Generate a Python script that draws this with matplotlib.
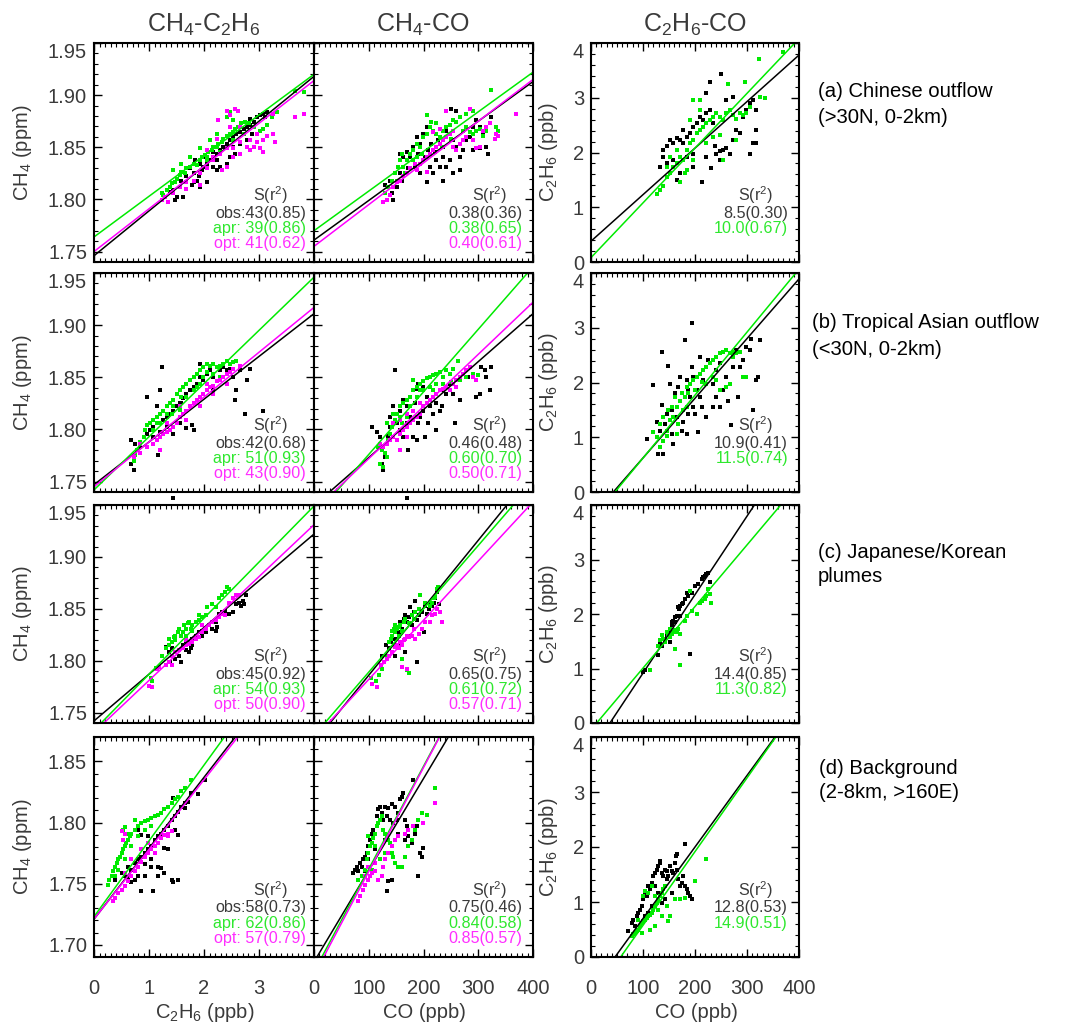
import matplotlib
matplotlib.use("Agg")
import matplotlib.pyplot as plt
import numpy as np
from matplotlib.ticker import MultipleLocator

plt.rcParams['font.family'] = ['Liberation Sans', 'DejaVu Sans']
plt.rcParams['mathtext.fontset'] = 'custom'
plt.rcParams['mathtext.rm'] = 'Liberation Sans'
plt.rcParams['mathtext.it'] = 'Liberation Sans'
plt.rcParams['mathtext.default'] = 'regular'

# ---- data ---------------------------------------------------------------
# (a) Chinese outflow
A1_OBS = [(1.38,1.807),(1.44,1.809),(1.50,1.802),(1.68,1.810),(1.78,1.814),(1.81,1.817),(1.87,1.818),(1.90,1.822),(1.93,1.825),(1.96,1.828),(1.99,1.831),(2.05,1.834),(2.11,1.838),(2.17,1.841),(2.23,1.844),(2.29,1.847),(2.35,1.850),(2.41,1.853),(2.47,1.857),(2.53,1.860),(2.59,1.863),(2.65,1.865),(2.72,1.868),(2.78,1.869),(2.84,1.871),(2.90,1.874),(2.96,1.879),(3.02,1.881),(3.08,1.882),(3.14,1.884),(3.11,1.879),(1.93,1.812),(2.05,1.817),(2.23,1.828),(2.29,1.831),(2.17,1.831),(1.81,1.825),(1.68,1.822),(1.59,1.818),(2.53,1.850),(2.65,1.853),(2.78,1.857),(2.87,1.863),(2.47,1.841),(2.41,1.834),(2.02,1.841),(1.93,1.834),(1.84,1.838),(1.75,1.830),(2.17,1.845),(1.62,1.802),(1.47,1.799),(2.56,1.844),(2.23,1.838),(2.84,1.877)]
A1_APR = [(1.23,1.806),(1.26,1.804),(1.32,1.809),(1.38,1.812),(1.41,1.816),(1.47,1.817),(1.50,1.820),(1.56,1.823),(1.59,1.826),(1.65,1.825),(1.68,1.830),(1.75,1.831),(1.81,1.834),(1.87,1.833),(1.93,1.838),(1.96,1.841),(2.02,1.843),(2.05,1.841),(2.08,1.845),(2.14,1.847),(2.17,1.850),(2.23,1.850),(2.26,1.853),(2.32,1.855),(2.35,1.858),(2.41,1.861),(2.47,1.863),(2.53,1.865),(2.56,1.868),(2.62,1.869),(2.68,1.873),(2.75,1.874),(2.81,1.873),(2.90,1.869),(3.02,1.866),(3.08,1.868),(3.14,1.871),(3.23,1.879),(3.26,1.882),(3.32,1.884),(3.65,1.904),(3.81,1.903),(2.41,1.879),(2.47,1.884),(2.53,1.876),(2.23,1.863),(2.11,1.857),(1.93,1.849),(1.75,1.841),(1.59,1.834),(1.44,1.828),(2.29,1.845),(2.05,1.838),(2.53,1.857),(2.72,1.863)]
A1_OPT = [(1.23,1.799),(1.29,1.802),(1.35,1.798),(1.44,1.806),(1.56,1.812),(1.68,1.817),(1.81,1.818),(1.93,1.825),(2.05,1.830),(2.17,1.841),(2.29,1.844),(2.41,1.849),(2.53,1.849),(2.65,1.855),(2.78,1.850),(2.84,1.857),(2.90,1.850),(2.96,1.855),(3.02,1.849),(3.08,1.857),(3.14,1.861),(3.26,1.863),(3.29,1.855),(3.08,1.845),(2.84,1.847),(2.65,1.844),(2.53,1.841),(2.41,1.831),(2.32,1.828),(2.17,1.838),(2.05,1.847),(2.41,1.885),(2.56,1.887),(2.62,1.885),(2.47,1.881),(2.26,1.876),(2.47,1.869),(2.65,1.869),(3.26,1.882),(3.65,1.879),(3.81,1.882),(1.93,1.814),(1.68,1.810),(2.23,1.858),(2.96,1.863)]
A2_OBS = [(129.5,1.814),(138.6,1.818),(144.7,1.799),(150.8,1.812),(156.9,1.825),(156.9,1.844),(162.9,1.841),(169.0,1.845),(175.1,1.841),(181.2,1.850),(187.3,1.860),(190.3,1.844),(193.3,1.853),(199.4,1.863),(205.5,1.869),(208.5,1.847),(211.6,1.831),(217.7,1.825),(223.7,1.838),(229.8,1.831),(235.9,1.841),(242.0,1.831),(248.1,1.838),(254.1,1.857),(260.2,1.850),(266.3,1.841),(272.4,1.847),(278.5,1.857),(284.5,1.860),(290.6,1.869),(296.7,1.876),(302.8,1.869),(308.9,1.863),(314.9,1.850),(318.0,1.844),(324.1,1.879),(251.1,1.887),(260.2,1.885),(242.0,1.866),(226.8,1.857),(214.6,1.853),(202.5,1.841),(184.2,1.831),(172.1,1.830),(159.9,1.818),(141.7,1.806),(193.3,1.825),(205.5,1.817),(235.9,1.818),(254.1,1.825),(266.3,1.828),(290.6,1.847),(302.8,1.849),(235.9,1.850),(220.7,1.845)]
A2_APR = [(129.5,1.806),(135.6,1.812),(141.7,1.818),(147.7,1.825),(153.8,1.831),(156.9,1.838),(162.9,1.831),(169.0,1.838),(175.1,1.844),(181.2,1.847),(187.3,1.853),(193.3,1.850),(199.4,1.860),(205.5,1.863),(211.6,1.869),(217.7,1.866),(223.7,1.863),(229.8,1.860),(235.9,1.866),(242.0,1.869),(248.1,1.871),(254.1,1.876),(260.2,1.874),(266.3,1.879),(272.4,1.866),(278.5,1.869),(284.5,1.865),(290.6,1.863),(296.7,1.866),(302.8,1.868),(308.9,1.861),(314.9,1.866),(324.1,1.905),(333.2,1.869),(336.2,1.866),(205.5,1.881),(214.6,1.874),(223.7,1.873),(196.4,1.844),(181.2,1.838),(166.0,1.825),(187.3,1.841),(232.9,1.850),(251.1,1.858),(278.5,1.882),(290.6,1.885),(159.9,1.844),(150.8,1.818)]
A2_OPT = [(126.5,1.798),(132.5,1.799),(138.6,1.804),(144.7,1.812),(150.8,1.817),(156.9,1.818),(162.9,1.822),(169.0,1.825),(175.1,1.830),(184.2,1.834),(193.3,1.834),(199.4,1.838),(205.5,1.841),(211.6,1.844),(217.7,1.847),(223.7,1.850),(229.8,1.853),(235.9,1.857),(242.0,1.860),(248.1,1.863),(254.1,1.850),(260.2,1.847),(266.3,1.853),(272.4,1.857),(278.5,1.860),(284.5,1.887),(290.6,1.857),(296.7,1.849),(302.8,1.850),(308.9,1.866),(314.9,1.869),(321.0,1.873),(330.1,1.858),(333.2,1.863),(336.2,1.861),(369.7,1.882),(242.0,1.885),(254.1,1.866),(229.8,1.868),(217.7,1.865),(187.3,1.828),(205.5,1.826)]
A3_OBS = [(132.5,1.74),(138.9,2.05),(145.3,2.11),(151.7,2.23),(158.1,2.17),(164.5,2.26),(170.9,2.23),(177.3,2.17),(183.7,2.29),(190.1,2.35),(196.5,2.47),(202.9,2.53),(209.3,2.65),(215.7,2.59),(222.1,2.72),(228.5,2.78),(234.9,2.53),(238.1,2.11),(241.3,1.98),(247.7,2.02),(254.1,2.05),(260.5,2.08),(266.9,1.98),(273.3,2.23),(279.7,2.41),(286.1,2.35),(292.5,2.65),(298.9,2.78),(305.3,2.90),(311.7,2.96),(318.1,2.78),(318.1,2.41),(311.7,2.17),(305.3,1.98),(318.1,2.17),(250.9,3.43),(228.5,3.29),(212.5,1.47),(170.9,1.62),(158.1,1.86),(145.3,1.80),(183.7,1.92),(196.5,1.98),(222.1,1.92),(231.7,1.71),(164.5,1.50),(138.9,1.92),(177.3,2.41),(260.5,2.96),(273.3,3.02),(222.1,3.08),(196.5,1.74),(247.7,1.86)]
A3_APR = [(126.1,1.25),(132.5,1.32),(138.9,1.38),(145.3,1.56),(151.7,1.62),(158.1,1.74),(164.5,1.80),(170.9,1.92),(177.3,1.86),(183.7,2.05),(190.1,2.17),(196.5,2.23),(202.9,2.35),(209.3,2.41),(215.7,2.47),(222.1,2.53),(228.5,2.59),(234.9,2.65),(241.3,2.72),(247.7,2.65),(254.1,2.59),(260.5,2.72),(266.9,2.78),(273.3,2.68),(279.7,2.62),(286.1,2.72),(292.5,2.68),(298.9,2.72),(305.3,2.84),(324.5,3.02),(334.1,2.99),(196.5,2.96),(209.3,2.96),(190.1,2.59),(209.3,2.78),(263.7,3.26),(295.7,3.29),(323.2,3.70),(369.3,3.84),(151.7,1.92),(145.3,1.74),(164.5,2.05),(180.5,1.62),(196.5,1.86),(222.1,2.17),(247.7,2.32),(279.7,2.23),(254.1,1.86),(170.9,1.47),(183.7,1.68),(234.9,2.29)]

# (b) Tropical Asian outflow
B1_OBS = [(0.68,1.767),(0.72,1.761),(0.68,1.790),(0.75,1.786),(0.78,1.780),(0.84,1.783),(0.90,1.793),(0.96,1.796),(0.96,1.831),(1.02,1.799),(1.08,1.802),(1.14,1.806),(1.20,1.798),(1.23,1.860),(1.20,1.838),(1.26,1.809),(1.32,1.812),(1.38,1.815),(1.44,1.818),(1.50,1.822),(1.56,1.825),(1.59,1.825),(1.56,1.806),(1.62,1.830),(1.68,1.834),(1.68,1.801),(1.75,1.838),(1.81,1.841),(1.87,1.844),(1.93,1.863),(1.93,1.850),(1.99,1.847),(2.05,1.853),(2.11,1.857),(2.17,1.850),(2.23,1.860),(2.29,1.857),(2.35,1.860),(2.41,1.857),(2.47,1.858),(2.53,1.850),(2.59,1.838),(2.65,1.857),(2.78,1.847),(2.84,1.858),(2.56,1.828),(2.75,1.815),(3.08,1.818),(1.78,1.804),(1.81,1.799),(1.32,1.802),(1.14,1.822),(1.08,1.793),(1.17,1.775),(1.44,1.796),(1.93,1.831),(2.17,1.838),(1.43,1.734)]
B1_APR = [(0.72,1.770),(0.75,1.775),(0.78,1.780),(0.84,1.788),(0.90,1.793),(0.93,1.799),(0.96,1.804),(1.02,1.806),(1.08,1.809),(1.14,1.812),(1.20,1.815),(1.26,1.818),(1.32,1.822),(1.38,1.825),(1.44,1.828),(1.50,1.834),(1.56,1.838),(1.62,1.841),(1.68,1.844),(1.75,1.847),(1.81,1.850),(1.87,1.853),(1.93,1.857),(1.99,1.860),(2.05,1.855),(2.11,1.861),(2.17,1.863),(2.23,1.860),(2.29,1.861),(2.35,1.863),(2.41,1.866),(2.47,1.863),(2.53,1.865),(2.59,1.866),(1.99,1.850),(1.81,1.838),(1.68,1.831),(1.44,1.822),(1.32,1.815),(1.14,1.806),(1.08,1.799),(1.56,1.819),(2.05,1.863),(1.87,1.841),(1.59,1.831),(1.41,1.815),(1.20,1.806),(2.17,1.853),(2.29,1.850),(1.93,1.844)]
B1_OPT = [(0.72,1.774),(0.84,1.777),(0.96,1.783),(1.08,1.786),(1.14,1.790),(1.20,1.793),(1.26,1.796),(1.32,1.798),(1.38,1.799),(1.44,1.802),(1.50,1.806),(1.56,1.812),(1.62,1.815),(1.68,1.818),(1.75,1.822),(1.81,1.825),(1.87,1.828),(1.93,1.831),(1.99,1.834),(2.05,1.838),(2.11,1.841),(2.17,1.842),(2.23,1.846),(2.29,1.847),(2.35,1.850),(2.41,1.853),(2.47,1.855),(2.53,1.858),(2.65,1.861),(1.68,1.809),(1.93,1.822),(2.17,1.834),(2.41,1.844),(1.20,1.780),(0.84,1.786),(1.32,1.806),(1.56,1.822),(2.05,1.844)]
B2_OBS = [(105.2,1.802),(114.3,1.798),(120.4,1.793),(123.4,1.767),(126.5,1.761),(129.5,1.774),(132.5,1.786),(135.6,1.794),(138.6,1.802),(138.6,1.812),(144.7,1.822),(147.7,1.857),(150.8,1.806),(156.9,1.799),(156.9,1.818),(162.9,1.828),(162.9,1.793),(169.0,1.806),(169.0,1.822),(175.1,1.831),(175.1,1.812),(181.2,1.793),(184.2,1.825),(187.3,1.839),(190.3,1.806),(193.3,1.812),(199.4,1.818),(202.5,1.793),(205.5,1.831),(208.5,1.806),(211.6,1.822),(217.7,1.815),(223.7,1.825),(229.8,1.818),(232.9,1.822),(235.9,1.838),(242.0,1.834),(248.1,1.844),(254.1,1.834),(260.2,1.847),(266.3,1.828),(272.4,1.853),(278.5,1.857),(281.5,1.850),(290.6,1.853),(296.7,1.831),(302.8,1.834),(305.8,1.860),(311.9,1.857),(314.9,1.850),(321.0,1.838),(324.1,1.860),(257.2,1.806),(187.3,1.790),(172.1,1.780),(223.7,1.799),(190.3,1.844),(199.4,1.841),(170.2,1.734)]
B2_APR = [(117.3,1.783),(123.4,1.780),(129.5,1.777),(132.5,1.774),(135.6,1.790),(138.6,1.796),(141.7,1.802),(147.7,1.809),(150.8,1.815),(156.9,1.822),(159.9,1.806),(162.9,1.825),(169.0,1.828),(175.1,1.831),(181.2,1.838),(187.3,1.841),(193.3,1.844),(199.4,1.846),(205.5,1.849),(211.6,1.850),(217.7,1.852),(223.7,1.853),(229.8,1.855),(235.9,1.850),(242.0,1.857),(248.1,1.853),(254.1,1.858),(263.3,1.866),(266.3,1.847),(278.5,1.850),(290.6,1.853),(299.7,1.852),(132.5,1.806),(144.7,1.815),(156.9,1.812),(175.1,1.822),(187.3,1.831),(199.4,1.838),(211.6,1.841),(223.7,1.844),(235.9,1.844),(181.2,1.847),(193.3,1.838),(120.4,1.767),(126.5,1.764),(169.0,1.812),(217.7,1.838),(251.1,1.845)]
B2_OPT = [(120.4,1.786),(126.5,1.783),(132.5,1.786),(138.6,1.790),(144.7,1.793),(150.8,1.790),(156.9,1.796),(162.9,1.799),(169.0,1.802),(175.1,1.806),(181.2,1.809),(187.3,1.812),(193.3,1.815),(199.4,1.822),(205.5,1.825),(211.6,1.828),(217.7,1.831),(223.7,1.834),(229.8,1.838),(235.9,1.839),(242.0,1.841),(248.1,1.838),(254.1,1.844),(260.2,1.847),(266.3,1.850),(272.4,1.853),(278.5,1.857),(284.5,1.860),(290.6,1.850),(296.7,1.847),(144.7,1.806),(156.9,1.809),(169.0,1.815),(181.2,1.818),(193.3,1.825),(156.9,1.780),(169.0,1.793),(260.2,1.841)]
B3_OBS = [(106.9,0.97),(119.7,1.95),(126.1,1.28),(129.3,0.70),(132.5,1.12),(135.7,1.58),(135.7,2.56),(138.9,0.70),(142.1,1.25),(145.3,1.43),(148.5,2.31),(151.7,1.98),(154.9,1.06),(158.1,0.88),(161.3,1.80),(164.5,1.55),(167.7,1.92),(170.9,2.10),(174.1,1.12),(177.3,1.28),(180.5,2.77),(183.7,2.04),(186.9,1.43),(190.1,1.73),(193.3,3.08),(193.3,2.28),(196.5,2.10),(199.7,1.43),(202.9,1.86),(206.1,1.09),(209.3,2.47),(212.5,1.55),(215.7,2.04),(222.1,1.37),(225.3,2.41),(228.5,2.35),(234.9,1.98),(241.3,2.22),(247.7,2.35),(254.1,1.86),(260.5,2.10),(263.7,1.67),(270.1,1.22),(273.3,2.28),(279.7,2.59),(282.9,1.73),(286.1,2.28),(292.5,2.41),(298.9,2.65),(305.3,2.59),(308.5,2.80),(311.7,1.49),(318.1,2.04),(321.3,2.10),(324.5,2.77),(209.3,1.73),(183.7,1.06),(164.5,1.37),(154.9,1.49),(241.3,1.73),(234.9,1.55),(247.7,1.55),(170.9,1.67),(196.5,1.55),(186.9,1.86)]
B3_APR = [(119.7,1.09),(126.1,1.00),(132.5,1.25),(138.9,1.37),(145.3,1.12),(148.5,1.49),(151.7,1.31),(154.9,1.55),(158.1,1.37),(161.3,1.73),(164.5,1.55),(167.7,1.25),(170.9,1.67),(174.1,1.80),(177.3,1.49),(180.5,1.73),(183.7,1.92),(186.9,1.80),(190.1,1.98),(196.5,2.04),(199.7,1.86),(202.9,2.10),(209.3,2.16),(212.5,2.01),(215.7,2.22),(222.1,2.28),(228.5,2.35),(234.9,2.41),(241.3,2.47),(247.7,2.53),(254.1,2.56),(260.5,2.59),(266.9,2.53),(273.3,2.56),(279.7,2.53),(286.1,2.56),(292.5,2.10),(298.9,2.10),(266.9,1.98),(260.5,1.92),(247.7,1.86),(234.9,2.10),(132.5,0.82),(138.9,0.94),(145.3,1.03),(183.7,1.55),(222.1,1.98),(241.3,2.04),(273.3,2.47),(164.5,1.06)]

# (c) Japanese/Korean plumes
C1_OBS = [(1.30,1.813),(1.36,1.808),(1.42,1.812),(1.48,1.802),(1.55,1.805),(1.58,1.799),(1.61,1.815),(1.67,1.816),(1.73,1.818),(1.76,1.812),(1.79,1.821),(1.85,1.824),(1.91,1.828),(1.97,1.829),(2.03,1.831),(2.09,1.834),(2.15,1.831),(2.21,1.829),(2.24,1.832),(2.27,1.845),(2.33,1.847),(2.39,1.848),(2.45,1.845),(2.52,1.847),(2.58,1.855),(2.64,1.856),(2.70,1.858),(2.76,1.863),(2.73,1.855),(2.67,1.853),(1.73,1.808),(1.67,1.810),(1.97,1.824),(2.15,1.837),(1.91,1.823),(1.39,1.799),(1.79,1.815),(2.03,1.828),(2.21,1.837)]
C1_APR = [(1.03,1.783),(1.06,1.780),(1.24,1.805),(1.30,1.812),(1.36,1.815),(1.42,1.818),(1.45,1.823),(1.48,1.824),(1.52,1.828),(1.55,1.831),(1.58,1.824),(1.61,1.828),(1.64,1.834),(1.67,1.831),(1.70,1.836),(1.73,1.837),(1.76,1.831),(1.79,1.834),(1.85,1.837),(1.91,1.844),(1.97,1.842),(2.03,1.844),(2.06,1.852),(2.15,1.855),(2.21,1.852),(2.27,1.860),(2.33,1.863),(2.39,1.866),(2.42,1.871),(2.45,1.869),(1.36,1.821),(1.48,1.820),(1.67,1.824),(1.79,1.829),(1.91,1.839),(1.12,1.793)]
C1_OPT = [(1.00,1.776),(1.06,1.775),(1.15,1.792),(1.18,1.794),(1.30,1.796),(1.36,1.799),(1.42,1.805),(1.48,1.808),(1.55,1.810),(1.61,1.812),(1.67,1.815),(1.73,1.816),(1.79,1.818),(1.85,1.821),(1.91,1.823),(1.97,1.828),(2.03,1.831),(2.09,1.834),(2.15,1.837),(2.21,1.839),(2.27,1.842),(2.33,1.845),(2.39,1.844),(2.45,1.856),(2.52,1.860),(2.58,1.863),(2.64,1.863),(1.42,1.796),(1.67,1.820),(1.97,1.834)]
C2_OBS = [(124.6,1.805),(130.7,1.815),(136.7,1.812),(139.8,1.818),(142.8,1.824),(148.8,1.821),(151.9,1.831),(154.9,1.828),(157.9,1.837),(160.9,1.831),(164.0,1.840),(167.0,1.844),(170.0,1.837),(173.0,1.842),(176.1,1.852),(179.1,1.834),(182.1,1.847),(185.1,1.858),(188.2,1.839),(191.2,1.844),(197.2,1.847),(200.3,1.828),(203.3,1.853),(206.3,1.845),(209.3,1.850),(212.4,1.855),(215.4,1.853),(218.4,1.856),(221.4,1.860),(224.5,1.866),(227.5,1.855),(167.0,1.808),(188.2,1.799),(148.8,1.805),(154.9,1.815),(173.0,1.824)]
C2_APR = [(103.5,1.783),(112.5,1.780),(118.6,1.786),(124.6,1.792),(133.7,1.805),(136.7,1.818),(139.8,1.821),(142.8,1.824),(148.8,1.828),(145.8,1.831),(151.9,1.831),(154.9,1.832),(157.9,1.834),(160.9,1.829),(164.0,1.837),(167.0,1.840),(173.0,1.836),(179.1,1.844),(182.1,1.840),(185.1,1.847),(191.2,1.850),(194.2,1.863),(203.3,1.856),(212.4,1.853),(215.4,1.856),(218.4,1.860),(221.4,1.861),(224.5,1.869),(226.3,1.871),(160.9,1.802),(170.0,1.791),(173.0,1.788),(148.8,1.834),(142.8,1.829),(154.9,1.824)]
C2_OPT = [(106.5,1.778),(115.6,1.775),(121.6,1.796),(127.7,1.799),(133.7,1.802),(136.7,1.805),(142.8,1.808),(148.8,1.813),(151.9,1.815),(154.9,1.812),(157.9,1.818),(160.9,1.815),(164.0,1.820),(167.0,1.821),(170.0,1.824),(173.0,1.823),(179.1,1.824),(182.1,1.831),(185.1,1.821),(191.2,1.826),(197.2,1.831),(203.3,1.837),(212.4,1.837),(215.4,1.844),(221.4,1.845),(224.5,1.850),(230.5,1.847),(233.5,1.837),(160.9,1.794),(170.0,1.792)]
C3_OBS = [(100.5,0.94),(103.7,0.97),(129.3,1.24),(132.5,1.48),(135.7,1.42),(142.1,1.55),(145.3,1.61),(148.5,1.67),(151.7,1.73),(154.9,1.79),(156.2,1.85),(158.1,1.88),(161.3,1.94),(164.5,1.97),(166.4,2.12),(169.0,2.09),(170.9,2.15),(174.1,2.18),(177.3,2.21),(180.5,2.27),(183.7,2.39),(186.9,2.33),(193.3,2.39),(199.7,2.52),(206.1,2.55),(212.5,2.64),(215.7,2.67),(218.9,2.70),(222.1,2.73),(225.3,2.76),(228.5,2.58),(190.1,1.27),(151.7,1.48),(161.3,1.85),(170.9,1.97)]
C3_APR = [(113.3,0.97),(129.3,1.42),(132.5,1.52),(135.7,1.61),(138.9,1.55),(142.1,1.48),(145.3,1.67),(148.5,1.61),(151.7,1.73),(154.9,1.64),(158.1,1.67),(161.3,1.70),(164.5,1.67),(167.7,1.73),(170.9,1.64),(161.3,1.36),(170.9,1.06),(180.5,1.88),(183.7,1.97),(193.3,2.06),(202.9,2.00),(209.3,2.21),(212.5,2.24),(218.9,2.27),(222.1,2.33),(225.3,2.45),(228.5,2.36),(231.7,2.21),(190.1,2.42),(151.7,1.58)]

# (d) Background
D1_OBS = [(0.38,1.753),(0.50,1.759),(0.56,1.756),(0.62,1.764),(0.68,1.761),(0.74,1.767),(0.80,1.770),(0.86,1.772),(0.92,1.775),(0.98,1.778),(1.04,1.781),(1.10,1.786),(1.16,1.789),(1.22,1.791),(1.28,1.794),(1.35,1.797),(1.41,1.802),(1.47,1.805),(1.53,1.809),(1.59,1.813),(1.65,1.816),(1.71,1.817),(1.77,1.824),(1.89,1.823),(2.01,1.835),(1.44,1.820),(1.47,1.794),(1.53,1.790),(1.65,1.812),(0.80,1.764),(0.68,1.751),(0.80,1.756),(0.92,1.756),(1.04,1.764),(1.16,1.756),(1.28,1.759),(0.86,1.744),(1.07,1.744),(1.16,1.764),(1.22,1.763),(1.28,1.779),(1.35,1.778),(1.41,1.753),(1.44,1.751),(1.53,1.753),(1.04,1.770),(0.92,1.766),(0.62,1.755),(0.74,1.753),(0.80,1.794),(0.98,1.789),(0.86,1.790)]
D1_APR = [(0.28,1.753),(0.32,1.756),(0.35,1.760),(0.38,1.764),(0.41,1.767),(0.44,1.770),(0.47,1.772),(0.50,1.775),(0.53,1.778),(0.56,1.781),(0.59,1.783),(0.62,1.786),(0.65,1.789),(0.68,1.791),(0.74,1.794),(0.80,1.797),(0.86,1.800),(0.92,1.801),(0.98,1.802),(1.04,1.804),(1.10,1.805),(1.16,1.806),(1.22,1.808),(1.28,1.811),(1.35,1.813),(1.41,1.816),(1.47,1.819),(1.53,1.821),(1.59,1.826),(1.65,1.828),(1.77,1.835),(0.53,1.794),(0.56,1.796),(0.62,1.791),(0.74,1.802),(0.80,1.789),(0.68,1.781),(0.56,1.770),(0.44,1.761),(0.92,1.794),(1.04,1.797),(0.38,1.756),(0.25,1.749)]
D1_OPT = [(0.35,1.736),(0.38,1.738),(0.44,1.742),(0.50,1.745),(0.56,1.748),(0.62,1.752),(0.68,1.756),(0.74,1.760),(0.80,1.764),(0.86,1.768),(0.92,1.772),(0.98,1.775),(1.04,1.778),(1.10,1.781),(1.16,1.783),(1.22,1.787),(1.28,1.790),(1.35,1.791),(1.41,1.793),(0.50,1.793),(0.56,1.791),(0.53,1.786),(0.68,1.770),(0.56,1.759),(0.86,1.778),(0.98,1.783),(1.10,1.775),(1.35,1.789)]
D2_OBS = [(71.7,1.759),(74.8,1.761),(77.8,1.764),(80.9,1.760),(83.9,1.767),(86.9,1.764),(90.0,1.770),(93.0,1.772),(96.1,1.775),(99.1,1.781),(102.1,1.786),(105.2,1.791),(108.2,1.794),(114.3,1.805),(117.3,1.811),(120.4,1.813),(123.4,1.808),(126.5,1.802),(129.5,1.813),(132.5,1.805),(135.6,1.812),(138.6,1.802),(141.7,1.815),(144.7,1.800),(147.7,1.813),(150.8,1.802),(153.8,1.808),(156.9,1.819),(159.9,1.821),(162.9,1.824),(166.0,1.802),(169.0,1.797),(172.1,1.789),(178.1,1.783),(181.2,1.835),(184.2,1.791),(187.3,1.797),(193.3,1.775),(196.4,1.772),(199.4,1.779),(190.3,1.756),(166.0,1.786),(153.8,1.791),(135.6,1.752),(132.5,1.744),(141.7,1.753),(99.1,1.770),(86.9,1.756),(93.0,1.760),(111.2,1.778),(129.5,1.786)]
D2_APR = [(80.9,1.753),(86.9,1.756),(93.0,1.761),(96.1,1.770),(99.1,1.775),(102.1,1.781),(105.2,1.783),(108.2,1.787),(111.3,1.791),(114.3,1.797),(117.3,1.800),(120.4,1.802),(123.4,1.805),(126.5,1.794),(129.5,1.791),(132.5,1.789),(135.6,1.786),(138.6,1.783),(141.7,1.775),(144.7,1.772),(147.7,1.767),(153.8,1.764),(159.9,1.764),(166.0,1.772),(172.1,1.781),(178.1,1.786),(184.2,1.794),(190.3,1.802),(196.4,1.808),(205.5,1.806),(220.7,1.828),(99.1,1.789),(111.3,1.781),(120.4,1.770),(126.5,1.764),(105.2,1.761),(129.5,1.775)]
D2_OPT = [(80.9,1.736),(83.9,1.740),(90.0,1.745),(93.0,1.749),(99.1,1.753),(102.1,1.756),(105.2,1.759),(111.3,1.760),(117.3,1.753),(123.4,1.756),(126.5,1.764),(129.5,1.770),(135.6,1.775),(141.7,1.781),(147.7,1.786),(153.8,1.789),(166.0,1.791),(172.1,1.794),(181.2,1.797),(199.4,1.800),(220.7,1.816),(99.1,1.764),(93.0,1.756),(111.3,1.767)]
D3_OBS = [(71.7,0.47),(78.1,0.62),(81.3,0.68),(84.5,0.56),(87.7,0.74),(90.9,0.80),(94.1,0.86),(97.3,0.92),(100.5,1.05),(103.7,1.17),(106.9,1.11),(110.1,1.29),(113.3,1.23),(116.5,1.35),(119.7,1.47),(122.9,1.53),(126.1,1.59),(129.3,1.65),(132.5,1.71),(135.7,1.53),(138.9,1.47),(142.1,1.59),(145.3,1.41),(148.5,1.47),(151.7,1.65),(154.9,1.56),(161.3,1.71),(162.6,1.84),(164.5,1.59),(167.7,1.41),(170.9,1.29),(174.1,1.35),(177.3,1.47),(180.5,1.29),(183.7,1.23),(186.9,1.17),(190.1,1.11),(193.3,1.05),(154.9,1.17),(135.7,0.98),(142.1,1.05),(129.3,1.17),(122.9,1.29),(132.5,1.74),(145.3,1.56),(164.5,1.87),(180.5,2.06),(158.1,1.53),(116.5,0.92),(110.1,0.80),(103.7,0.74)]
D3_APR = [(78.1,0.38),(81.3,0.41),(84.5,0.44),(87.7,0.47),(90.9,0.50),(94.1,0.56),(97.3,0.62),(100.5,0.65),(103.7,0.68),(106.9,0.71),(110.1,0.74),(113.3,0.77),(116.5,0.80),(119.7,0.86),(122.9,0.92),(126.1,0.98),(129.3,1.05),(132.5,1.11),(135.7,1.17),(138.9,1.23),(142.1,1.29),(145.3,0.92),(148.5,0.65),(151.7,0.74),(161.3,1.05),(170.9,1.05),(180.5,1.08),(199.7,1.38),(222.1,1.78),(100.5,1.11),(103.7,1.20),(110.1,1.17),(116.5,1.29),(122.9,1.11),(129.3,0.86),(135.7,0.74),(90.9,0.68),(97.3,0.44),(113.3,0.50),(122.9,0.56)]

# regression lines (intercept, slope) for obs / apr / opt
A1_FIT = [(1.746, 0.043), (1.764, 0.039), (1.750, 0.041)]
A2_FIT = [(1.761, 0.00038), (1.770, 0.00038), (1.755, 0.00040)]
A3_FIT = [(0.38, 0.0085), (0.08, 0.0100)]
B1_FIT = [(1.747, 0.041), (1.742, 0.051), (1.745, 0.043)]
B2_FIT = [(1.727, 0.00046), (1.716, 0.00060), (1.722, 0.00050)]
B3_FIT = [(-0.468, 0.0109), (-0.53, 0.0115)]
C1_FIT = [(1.742, 0.045), (1.733, 0.054), (1.731, 0.050)]
C2_FIT = [(1.721, 0.00065), (1.728, 0.00061), (1.725, 0.00057)]
C3_FIT = [(-0.525, 0.0144), (-0.123, 0.0113)]
D1_FIT = [(1.721, 0.058), (1.723, 0.062), (1.721, 0.057)]
D2_FIT = [(1.686, 0.00075), (1.678, 0.00084), (1.675, 0.00085)]
D3_FIT = [(-0.60, 0.0130), (-0.764, 0.0134)]

# slope (r^2) text
A1_TXT = ['obs:43(0.85)', 'apr: 39(0.86)', 'opt: 41(0.62)']
A2_TXT = ['0.38(0.36)', '0.38(0.65)', '0.40(0.61)']
A3_TXT = ['8.5(0.30)', '10.0(0.67)']
B1_TXT = ['obs:42(0.68)', 'apr: 51(0.93)', 'opt: 43(0.90)']
B2_TXT = ['0.46(0.48)', '0.60(0.70)', '0.50(0.71)']
B3_TXT = ['10.9(0.41)', '11.5(0.74)']
C1_TXT = ['obs:45(0.92)', 'apr: 54(0.93)', 'opt: 50(0.90)']
C2_TXT = ['0.65(0.75)', '0.61(0.72)', '0.57(0.71)']
C3_TXT = ['14.4(0.85)', '11.3(0.82)']
D1_TXT = ['obs:58(0.73)', 'apr: 62(0.86)', 'opt: 57(0.79)']
D2_TXT = ['0.75(0.46)', '0.84(0.58)', '0.85(0.57)']
D3_TXT = ['12.8(0.53)', '14.9(0.51)']

ROW_LABELS = [('(a) Chinese outflow', '(>30N, 0-2km)'),
              ('(b) Tropical Asian outflow', '(<30N, 0-2km)'),
              ('(c) Japanese/Korean', 'plumes'),
              ('(d) Background', '(2-8km, >160E)')]
COL_TITLES = ['CH$_4$-C$_2$H$_6$', 'CH$_4$-CO', 'C$_2$H$_6$-CO']

# ---- drawing --------------------------------------------------------------
W, H = 1072, 1030
fig = plt.figure(figsize=(W / 100, H / 100), dpi=100)

GREEN = '#00ea00'
MAGENTA = '#ff00ff'
TXTGREEN = '#2ee82e'
TXTMAG = '#ff2eff'
GREY = '#3a3a3a'
COLORS = ['black', GREEN, MAGENTA]
TXTCOL = [GREY, TXTGREEN, TXTMAG]

col_left = [94, 314, 591]
col_w = [220, 219, 208]
row_top = [43, 273, 505, 737]
row_h = [219, 219, 218, 220]

panels = [
    [(A1_OBS, A1_APR, A1_OPT), (A2_OBS, A2_APR, A2_OPT), (A3_OBS, A3_APR)],
    [(B1_OBS, B1_APR, B1_OPT), (B2_OBS, B2_APR, B2_OPT), (B3_OBS, B3_APR)],
    [(C1_OBS, C1_APR, C1_OPT), (C2_OBS, C2_APR, C2_OPT), (C3_OBS, C3_APR)],
    [(D1_OBS, D1_APR, D1_OPT), (D2_OBS, D2_APR, D2_OPT), (D3_OBS, D3_APR)],
]
fits = [[A1_FIT, A2_FIT, A3_FIT], [B1_FIT, B2_FIT, B3_FIT],
        [C1_FIT, C2_FIT, C3_FIT], [D1_FIT, D2_FIT, D3_FIT]]
texts = [[A1_TXT, A2_TXT, A3_TXT], [B1_TXT, B2_TXT, B3_TXT],
         [C1_TXT, C2_TXT, C3_TXT], [D1_TXT, D2_TXT, D3_TXT]]

txt_x = [0.964, 0.95, 0.947]
s_x = [0.882, 0.881, 0.875]
txt_y = [0.203, 0.133, 0.064]

for r in range(4):
    for c in range(3):
        ax = fig.add_axes([col_left[c] / W, 1 - (row_top[r] + row_h[r]) / H,
                           col_w[c] / W, row_h[r] / H])
        xlim = (0, 4) if c == 0 else (0, 400)
        if c == 2:
            ylim = (0, 4)
        elif r == 3:
            ylim = (1.69, 1.87)
        else:
            ylim = (1.74, 1.95)

        for pts, col in zip(panels[r][c], COLORS):
            p = np.array(pts)
            ax.plot(p[:, 0], p[:, 1], 's', ms=2.3, mew=0, color=col, clip_on=False)
        xs = np.array(xlim, dtype=float)
        for (b, m), col in zip(fits[r][c], COLORS):
            ax.plot(xs, b + m * xs, color=col, lw=1.1)

        ax.set_xlim(xlim)
        ax.set_ylim(ylim)

        # ticks
        if c == 0:
            ax.set_xticks([0, 1, 2, 3, 4])
            ax.xaxis.set_minor_locator(MultipleLocator(0.1))
        else:
            ax.set_xticks([0, 100, 200, 300, 400])
            ax.xaxis.set_minor_locator(MultipleLocator(10))
        if c == 2:
            ax.set_yticks([0, 1, 2, 3, 4])
            ax.yaxis.set_minor_locator(MultipleLocator(0.2))
        elif r == 3:
            ax.set_yticks([1.70, 1.75, 1.80, 1.85])
            ax.yaxis.set_minor_locator(MultipleLocator(0.01))
        else:
            ax.set_yticks([1.75, 1.80, 1.85, 1.90, 1.95])
            ax.yaxis.set_minor_locator(MultipleLocator(0.01))

        ax.tick_params(which='both', direction='in', top=True, right=True,
                       colors='black', labelcolor=GREY, labelsize=14.5)
        ax.tick_params(which='major', length=6, width=1.0)
        ax.tick_params(which='minor', length=3, width=0.8)
        ax.tick_params(axis='x', pad=16)
        ax.tick_params(axis='y', pad=5)
        for s in ax.spines.values():
            s.set_linewidth(1.5)

        if r < 3:
            ax.tick_params(labelbottom=False)
        else:
            if c == 0:
                ax.set_xticklabels(['0', '1', '2', '3', ''])
            else:
                ax.set_xticklabels(['0', '100', '200', '300', '400'])
        if c == 1:
            ax.tick_params(labelleft=False)
        else:
            if c == 2:
                ax.set_yticklabels(['0', '1', '2', '3', '4'])
                ax.get_yticklabels()[-1].set_verticalalignment('top')
            elif r == 3:
                ax.set_yticklabels(['1.70', '1.75', '1.80', '1.85'])
            else:
                ax.set_yticklabels(['1.75', '1.80', '1.85', '1.90', '1.95'])
                ax.get_yticklabels()[-1].set_verticalalignment('top')

        # stats text
        ax.text(s_x[c], 0.279, 'S(r$^2$)', transform=ax.transAxes, ha='right',
                va='baseline', fontsize=11.6, color=GREY)
        for t, ty, tc in zip(texts[r][c], txt_y, TXTCOL):
            ax.text(txt_x[c], ty, t, transform=ax.transAxes, ha='right',
                    va='baseline', fontsize=11.6, color=tc)

        # y labels
        cy = 1 - (row_top[r] + row_h[r] / 2) / H
        if c == 0:
            fig.text(22 / W, cy, 'CH$_4$ (ppm)', rotation=90, ha='center',
                     va='center', fontsize=14.5, color=GREY)
        if c == 2:
            fig.text(549 / W, cy, 'C$_2$H$_6$ (ppb)', rotation=90, ha='center',
                     va='center', fontsize=14.5, color=GREY)

# column titles
for x, t in zip([204, 423, 695], COL_TITLES):
    fig.text(x / W, 1 - 32 / H, t, ha='center', va='baseline', fontsize=18, color=GREY)

# x labels
for x, t in zip([205, 424, 696], ['C$_2$H$_6$ (ppb)', 'CO (ppb)', 'CO (ppb)']):
    fig.text(x / W, 1 - 1013 / H, t, ha='center', va='center', fontsize=14.5, color=GREY)

# row labels
lab_x = [818, 812, 818, 819]
lab_y = [(97, 123), (328, 355), (558, 582), (774, 798)]
for (l1, l2), x, (y1, y2) in zip(ROW_LABELS, lab_x, lab_y):
    fig.text(x / W, 1 - y1 / H, l1, ha='left', va='baseline', fontsize=14.6, color='black')
    fig.text(x / W, 1 - y2 / H, l2, ha='left', va='baseline', fontsize=14.6, color='black')

fig.savefig('out.png', dpi=100)
